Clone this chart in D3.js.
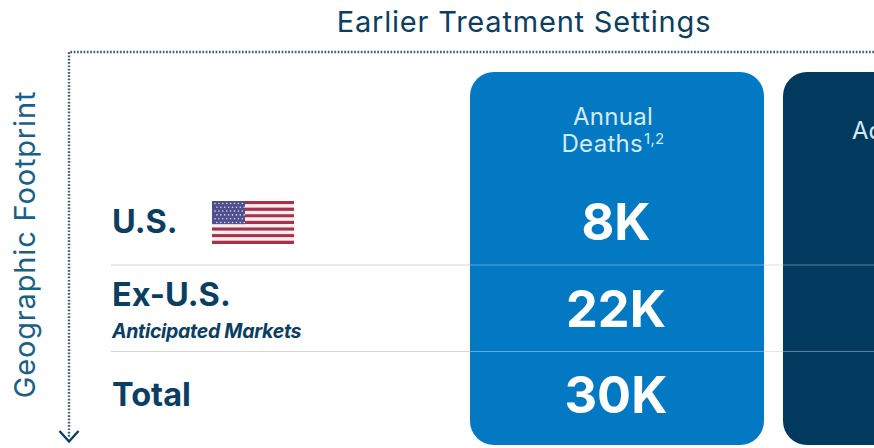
<!DOCTYPE html>
<html><head><meta charset="utf-8">
<script src="https://cdn.jsdelivr.net/npm/d3@7/dist/d3.min.js"></script>
<style>html,body{margin:0;padding:0;background:#fff;overflow:hidden}svg{display:block}text{font-family:"Inter","Noto Sans",sans-serif}</style>
</head><body><svg id="c" width="874" height="448"></svg>
<script>
const title = "Earlier Treatment Settings";
const axisLabel = "Geographic Footprint";
const rows = ["U.S.", "Ex-U.S.", "Total"];
const rowSub = ["", "Anticipated Markets", ""];
const deaths = [8, 22, 30];
const cardHeader = ["Annual", "Deaths"];
const cardNote = "1,2";
const secondCardHeader = "Ad";

const navy = "#0b3e61", blue = "#0379c4", dark = "#023a5f", pale = "#d5eaf7";
const svg = d3.select("#c");
const y = d3.scaleBand().domain(rows).range([178.5, 438]);

svg.append("text").attr("x", 524).attr("y", 31.5).attr("text-anchor", "middle")
  .attr("font-size", 29).attr("letter-spacing", .8).attr("fill", navy).text(title);

svg.append("text").attr("transform", "translate(35,244.5) rotate(-90)").attr("text-anchor", "middle")
  .attr("font-size", 29).attr("letter-spacing", .85).attr("fill", "#1a5f88").text(axisLabel);

const path = d3.path();
path.moveTo(874, 52); path.lineTo(69, 52); path.lineTo(69, 438);
svg.append("path").attr("d", path.toString()).attr("fill", "none").attr("stroke", "#3c5f78")
  .attr("stroke-width", 2.4).attr("stroke-dasharray", "1.7 1.6");
svg.append("path").attr("d", "M59.5,431 L69,441.5 L78.5,431").attr("fill", "none")
  .attr("stroke", navy).attr("stroke-width", 2.4);

svg.selectAll("line.sep").data(rows.slice(1)).join("line").attr("class", "sep")
  .attr("x1", 111).attr("x2", 874).attr("y1", d => y(d)).attr("y2", d => y(d))
  .attr("stroke", "#d4d8dc").attr("stroke-width", 1.2);

svg.append("rect").attr("x", 470).attr("y", 72).attr("width", 294).attr("height", 373).attr("rx", 24).attr("fill", blue);
svg.append("rect").attr("x", 783).attr("y", 72).attr("width", 130).attr("height", 373).attr("rx", 24).attr("fill", dark);

svg.selectAll("line.sep2").data(rows.slice(1)).join("line").attr("class", "sep2")
  .attr("x1", 470).attr("x2", 874).attr("y1", d => y(d)).attr("y2", d => y(d))
  .attr("stroke", "#ffffff").attr("stroke-opacity", .36).attr("stroke-width", 1);

svg.append("text").attr("x", 613).attr("y", 125).attr("text-anchor", "middle")
  .attr("font-size", 24).attr("letter-spacing", .3).attr("fill", pale).text(cardHeader[0]);
const t2 = svg.append("text").attr("x", 613).attr("y", 152).attr("text-anchor", "middle")
  .attr("font-size", 24).attr("letter-spacing", .3).attr("fill", pale);
t2.append("tspan").text(cardHeader[1]);
t2.append("tspan").attr("font-size", 15).attr("dx", 1).attr("dy", -8).text(cardNote);
svg.append("text").attr("x", 852).attr("y", 139).attr("font-size", 24).attr("fill", pale).text(secondCardHeader);

svg.selectAll("text.val").data(deaths).join("text").attr("class", "val")
  .attr("x", 616).attr("y", (d, i) => y(rows[i]) + y.bandwidth() / 2 + 18.5)
  .attr("text-anchor", "middle").attr("font-size", 50.5).attr("font-weight", 700)
  .attr("fill", "#fff").text(d => d + "K");

const labelY = [233, 306, 406];
svg.selectAll("text.row").data(rows).join("text").attr("class", "row")
  .attr("x", 112).attr("y", (d, i) => labelY[i]).attr("font-size", 32.5).attr("font-weight", 700)
  .attr("fill", navy).text(d => d);
svg.append("text").attr("x", 112).attr("y", 338).attr("font-size", 19.5).attr("font-weight", 700)
  .attr("font-style", "italic").attr("letter-spacing", -.3).attr("fill", navy).text(rowSub[1]);

const fx = 212, fy = 201, fw = 82, fh = 43;
const stripes = d3.range(13);
const sy = d3.scaleBand().domain(stripes).range([fy, fy + fh]);
const flag = svg.append("g");
flag.selectAll("rect.s").data(stripes).join("rect").attr("class", "s")
  .attr("x", fx).attr("width", fw).attr("y", d => sy(d)).attr("height", sy.bandwidth())
  .attr("fill", d => d % 2 ? "#f7eef0" : "#a8304a");
flag.append("rect").attr("x", fx).attr("y", fy).attr("width", 33).attr("height", sy.bandwidth() * 7).attr("fill", "#4f4f8d");
flag.selectAll("circle").data(d3.cross(d3.range(8), d3.range(6))).join("circle")
  .attr("cx", d => fx + 3 + d[0] * 3.9 + (d[1] % 2 ? 1.9 : 0))
  .attr("cy", d => fy + 2.5 + d[1] * 3.8)
  .attr("r", .8).attr("fill", "#d7d7ea");
</script></body></html>
